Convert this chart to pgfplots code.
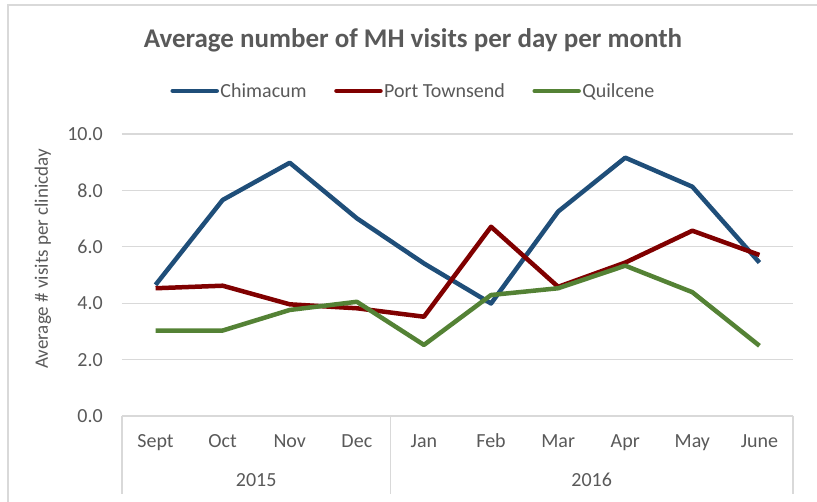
\documentclass[border=0pt]{standalone}
\usepackage{fontspec}
\setmainfont{Carlito}
\usepackage{pgfplots}
\pgfplotsset{compat=1.18}
\definecolor{cblue}{HTML}{1F4E79}
\definecolor{cred}{HTML}{800000}
\definecolor{cgreen}{HTML}{548235}
\definecolor{cgrid}{HTML}{D9D9D9}
\definecolor{ctext}{HTML}{595959}
\begin{document}
\begin{tikzpicture}[x=1pt,y=1pt]
\useasboundingbox (0,0) rectangle (817,502);
\draw[cgrid, line width=1.5pt] (8,0) -- (8,497) -- (817,497);
\node[font=\fontsize{27}{30}\selectfont\bfseries, text=ctext] at (413,462) {Average number of MH visits per day per month};
\begin{axis}[
  at={(122pt,86pt)}, anchor=south west, scale only axis,
  width=671pt, height=282pt,
  xmin=-0.5, xmax=9.5, ymin=0, ymax=10,
  ytick={0,2,...,10}, xtick={0,...,9},
  xticklabels={Sept,Oct,Nov,Dec,Jan,Feb,Mar,Apr,May,June},
  axis line style={draw=none},
  major tick length=0pt,
  ymajorgrids, grid style={cgrid, line width=1.2pt},
  tick label style={font=\fontsize{20}{24}\selectfont, text=ctext},
  /pgf/number format/assume math mode=true,
  yticklabel style={anchor=east, inner sep=0pt, xshift=-19pt,
    /pgf/number format/.cd, fixed, fixed zerofill, precision=1},
  xticklabel style={anchor=base, inner sep=0pt, yshift=-31.5pt},
  ylabel={Average \# visits per clinicday},
  ylabel style={at={(axis description cs:-0.1177,0.557)}, anchor=center,
    font=\fontsize{19}{23}\selectfont, text=ctext},
  clip=false,
  legend columns=3,
  legend style={at={(axis description cs:0.434,1.1525)}, anchor=center,
    draw=none, fill=none, inner sep=0pt,
    font=\fontsize{20}{24}\selectfont, text=ctext,
    nodes={inner sep=1.5pt},
    /tikz/every even column/.append style={column sep=26pt}},
  legend image code/.code={\draw[#1, line width=4.5pt, line cap=round] (2pt,0pt) -- (46pt,0pt);},
  every axis plot/.append style={line width=4.5pt, line join=round, no markers},
]
\addplot[cblue] coordinates {(0,4.65) (1,7.66) (2,8.98) (3,7.01) (4,5.41) (5,3.99) (6,7.25) (7,9.16) (8,8.13) (9,5.44)};
\addlegendentry{Chimacum}
\addplot[cred] coordinates {(0,4.53) (1,4.62) (2,3.96) (3,3.82) (4,3.52) (5,6.71) (6,4.58) (7,5.44) (8,6.57) (9,5.71)};
\addlegendentry{Port Townsend}
\addplot[cgreen] coordinates {(0,3.03) (1,3.03) (2,3.76) (3,4.05) (4,2.52) (5,4.29) (6,4.53) (7,5.33) (8,4.39) (9,2.49)};
\addlegendentry{Quilcene}
\draw[cgrid, line width=1.2pt] (axis cs:-0.5,0) -- ([yshift=-78pt]axis cs:-0.5,0);
\draw[cgrid, line width=1.2pt] (axis cs:3.5,0) -- ([yshift=-78pt]axis cs:3.5,0);
\draw[cgrid, line width=1.2pt] (axis cs:9.5,0) -- ([yshift=-78pt]axis cs:9.5,0);
\node[font=\fontsize{20}{24}\selectfont, text=ctext] at ([yshift=-64pt]axis cs:1.5,0) {2015};
\node[font=\fontsize{20}{24}\selectfont, text=ctext] at ([yshift=-64pt]axis cs:6.5,0) {2016};
\end{axis}
\end{tikzpicture}
\end{document}
